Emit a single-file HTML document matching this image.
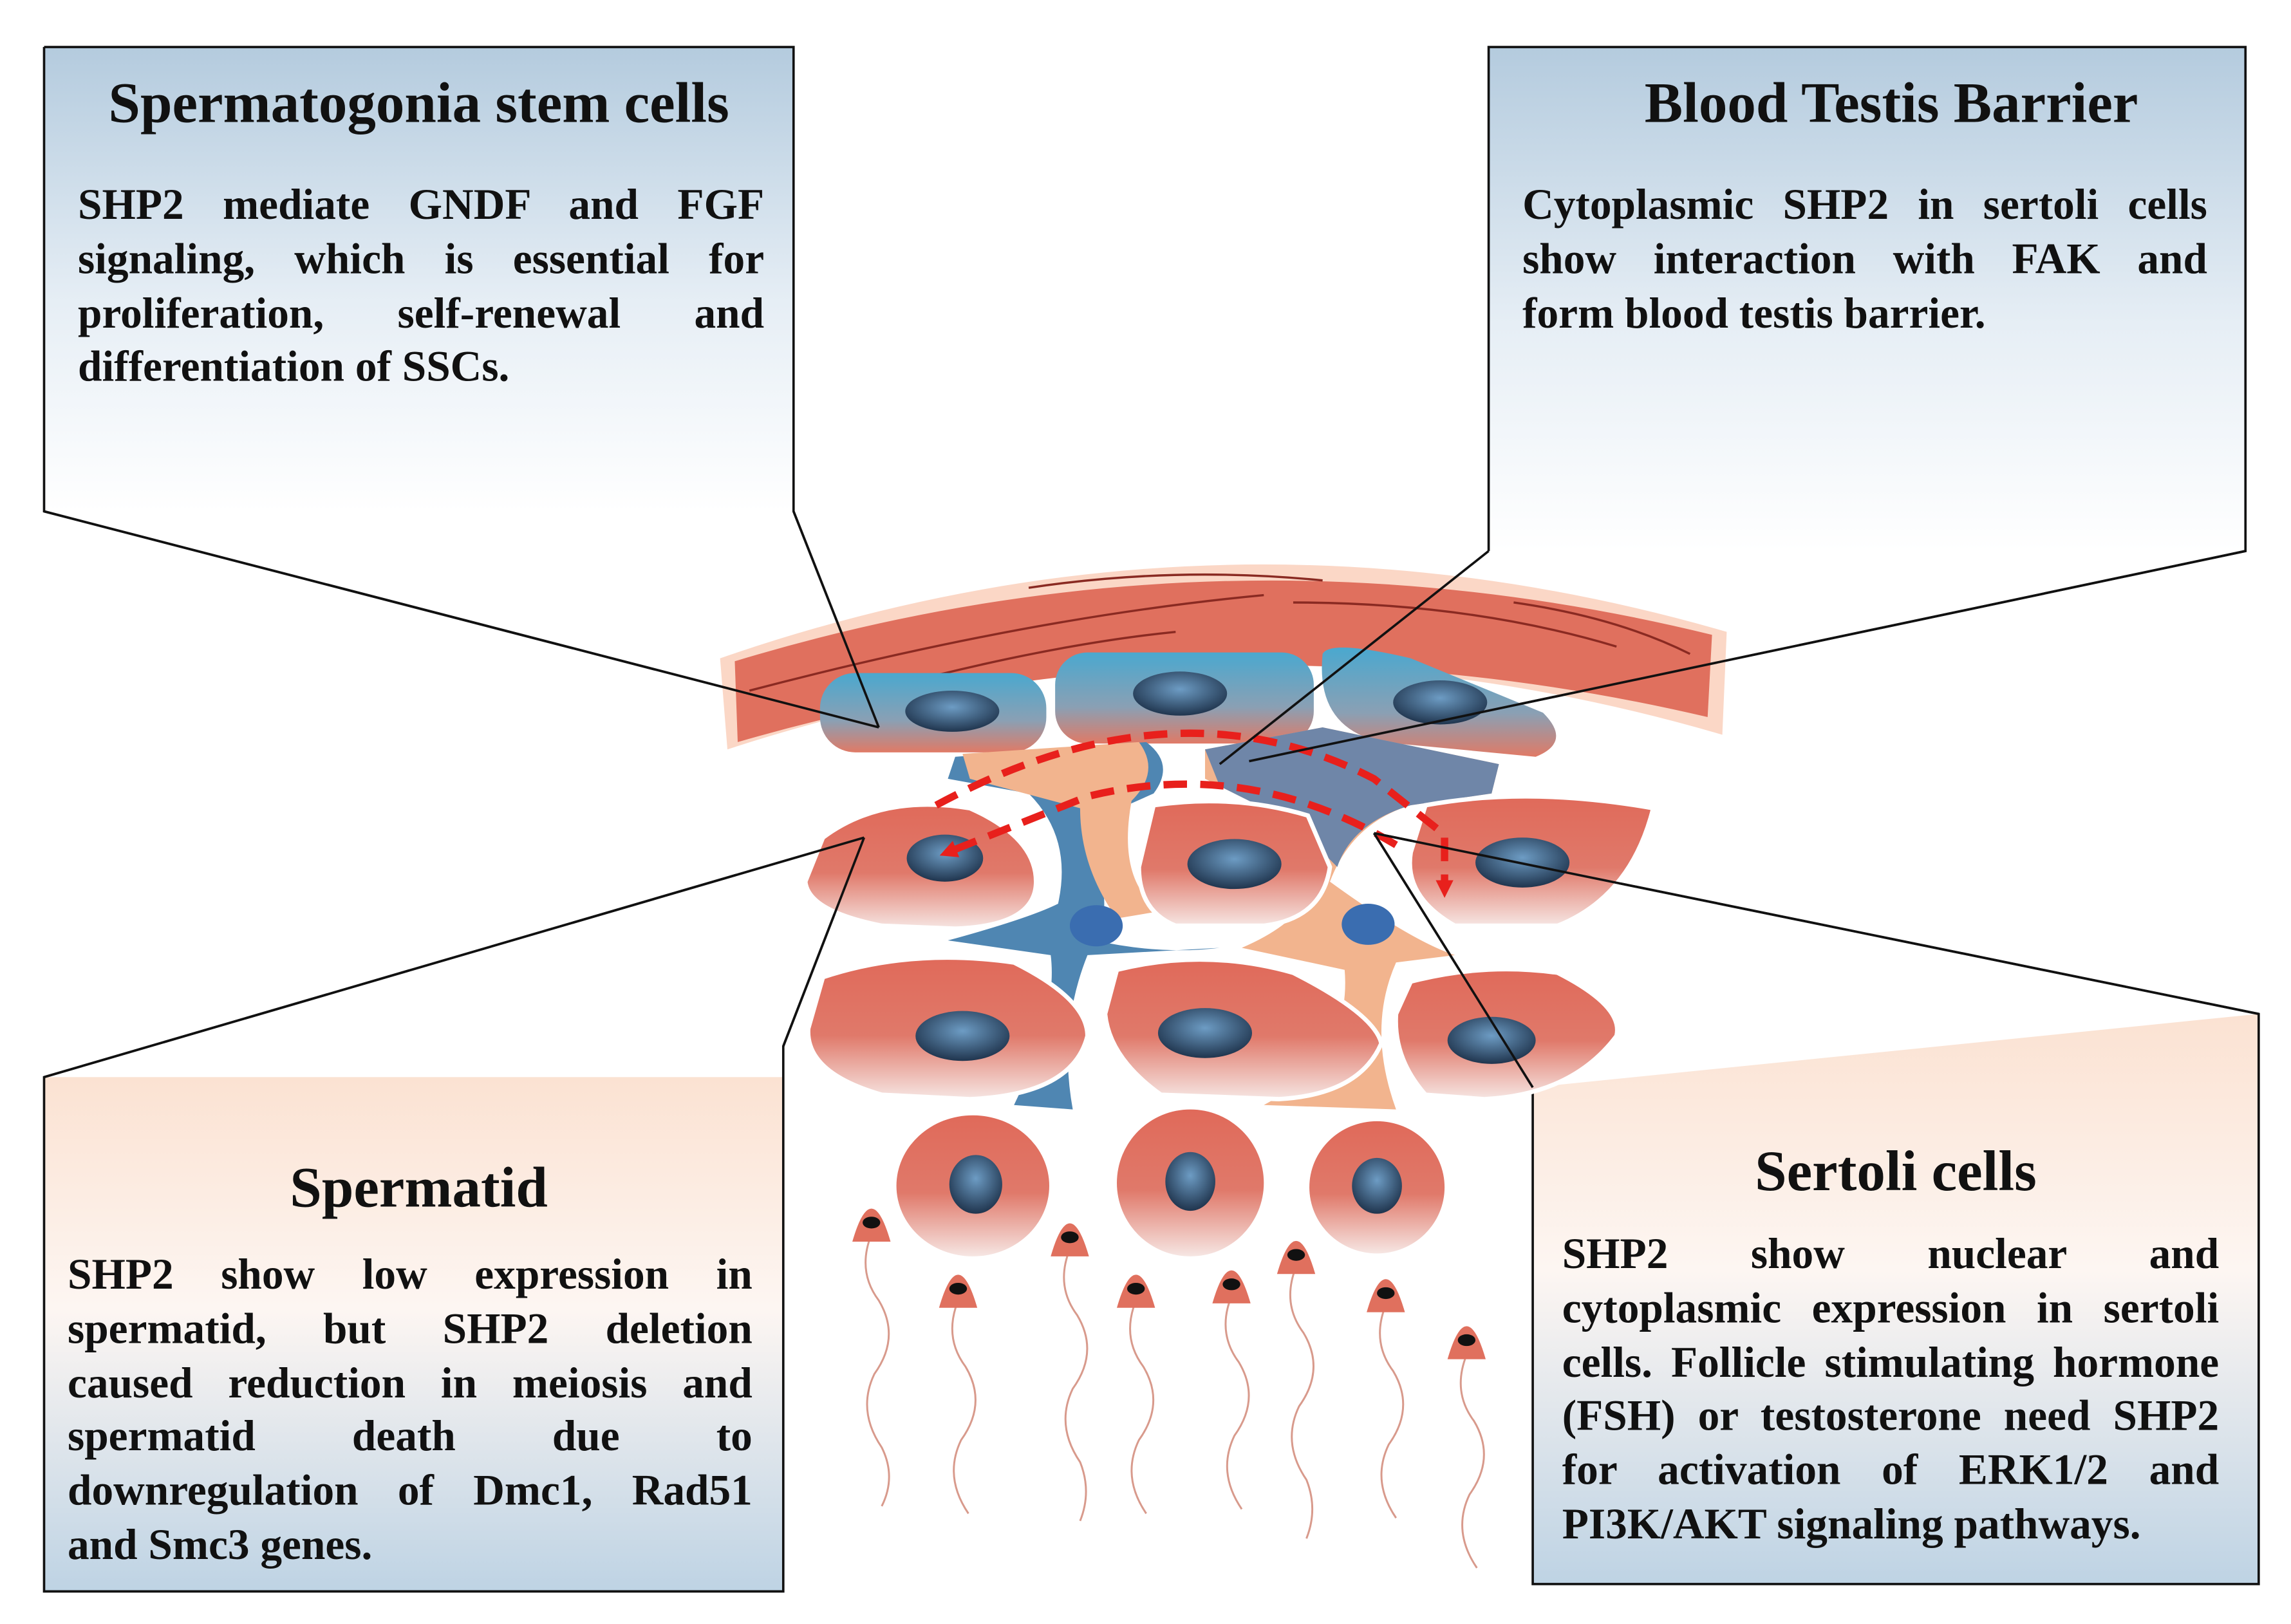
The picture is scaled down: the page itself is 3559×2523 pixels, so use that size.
<!DOCTYPE html>
<html><head><meta charset="utf-8"><style>
html,body{margin:0;padding:0;background:#fff;}
#wrap{position:absolute;left:0;top:0;width:1559px;height:1105px;transform:scale(2.2829);transform-origin:0 0;overflow:hidden;}
svg{position:absolute;left:0;top:0;}
.t{position:absolute;font-family:"Liberation Serif",serif;font-weight:bold;color:#111;}
.title{font-size:39px;text-align:center;}
.b{font-size:29.5px;line-height:36.8px;}
.b div{text-align:justify;text-align-last:justify;white-space:nowrap;}
.b div.l{text-align-last:left;}
</style></head><body><div id="wrap">
<svg width="1559" height="1105" viewBox="0 0 1559 1105">
<defs>
<linearGradient id="gb" x1="0" y1="0" x2="0" y2="1"><stop offset="0" stop-color="#b4cbde"/><stop offset="0.55" stop-color="#e6eef5"/><stop offset="1" stop-color="#fff"/></linearGradient>
<linearGradient id="gp" x1="0" y1="0" x2="0" y2="1"><stop offset="0" stop-color="#fbe2d2"/><stop offset="0.45" stop-color="#fdf6f2"/><stop offset="1" stop-color="#bed3e4"/></linearGradient>
<linearGradient id="cell" x1="0" y1="0" x2="0" y2="1"><stop offset="0" stop-color="#e06a5a"/><stop offset="0.55" stop-color="#e0796a"/><stop offset="1" stop-color="#f6e6e3"/></linearGradient>
<linearGradient id="bcell" x1="0" y1="0" x2="0" y2="1"><stop offset="0" stop-color="#4aa8cf"/><stop offset="0.6" stop-color="#8aa0b4"/><stop offset="1" stop-color="#e07a66"/></linearGradient>
<radialGradient id="nuc" cx="0.5" cy="0.4" r="0.6"><stop offset="0" stop-color="#6d9cc4"/><stop offset="1" stop-color="#20354e"/></radialGradient>
<marker id="ar" markerUnits="userSpaceOnUse" markerWidth="16" markerHeight="16" refX="6" refY="8" orient="auto"><path d="M0,2 L12,8 L0,14 z" fill="#e8201c"/></marker>
</defs>
<rect x="30" y="32" width="510" height="316" fill="url(#gb)"/>
<polyline points="30,32 540,32 540,348 598,495 30,348 30,32" fill="none" stroke="#111" stroke-width="1.6"/>
<rect x="1013" y="32" width="515" height="343" fill="url(#gb)"/>
<polyline points="1013,375 1013,32 1528,32 1528,375 850,518" fill="none" stroke="#111" stroke-width="1.6"/>
<rect x="30" y="733" width="503" height="350" fill="url(#gp)"/>
<polyline points="588,570 30,733 30,1083 533,1083 533,712 588,570" fill="none" stroke="#111" stroke-width="1.6"/>
<polygon points="1043,740 1537,690 1537,1078 1043,1078" fill="url(#gp)"/>
<polyline points="935,567 1043,740 1043,1078 1537,1078 1537,690 935,567" fill="none" stroke="#111" stroke-width="1.6"/>
<path d="M490,448 Q830,330 1175,430 L1172,500 Q830,400 495,510 Z" fill="#f8b08e" opacity="0.5"/>
<path d="M500,450 Q830,350 1165,432 L1162,488 Q830,410 502,505 Z" fill="#e0705e"/>
<path d="M510,470 Q700,420 860,405 M560,480 Q700,440 800,430 M700,400 Q800,385 900,395 M880,410 Q1000,410 1100,440 M1030,410 Q1100,420 1150,445" stroke="#8a2a22" stroke-width="1.5" fill="none"/>
<rect x="558" y="458" width="154" height="54" rx="24" fill="url(#bcell)"/>
<rect x="718" y="444" width="176" height="62" rx="22" fill="url(#bcell)"/>
<path d="M900,445 Q905,435 960,448 L1050,485 Q1070,505 1045,515 L940,505 Q895,495 900,445Z" fill="url(#bcell)"/>
<path d="M650,515 L780,505 Q800,520 785,540 L740,560 Q760,620 745,640 Q790,650 830,645 L740,650 Q720,700 730,755 L690,752 Q720,690 715,650 L645,640 Q700,625 720,615 Q730,570 700,540 L645,530Z" fill="#4f86b2"/>
<path d="M655,513 L775,505 Q790,525 770,545 Q760,600 790,620 L760,625 Q735,590 735,550 L660,530Z" fill="#f2b48e"/>
<path d="M820,510 L900,495 L1020,520 L1015,540 L960,548 Q920,560 905,600 Q960,640 990,650 L950,655 Q930,700 950,755 L860,752 Q920,720 915,660 L845,645 Q880,630 890,610 Q900,570 850,545 L820,530Z" fill="#f2b48e"/>
<path d="M820,510 L900,495 L1020,520 L1015,540 L960,548 Q920,560 910,590 L880,560 L830,535Z" fill="#6f86a8"/>
<ellipse cx="746" cy="630" rx="18" ry="14" fill="#3a6db0"/>
<ellipse cx="931" cy="629" rx="18" ry="14" fill="#3a6db0"/>
<path d="M560,570 Q600,540 660,550 Q705,570 705,600 Q705,630 650,632 L600,630 Q550,620 548,600 Z" fill="url(#cell)" stroke="#fff" stroke-width="3"/>
<path d="M785,548 Q840,540 890,555 L905,590 Q900,625 860,630 L800,630 Q775,620 775,590Z" fill="url(#cell)" stroke="#fff" stroke-width="3"/>
<path d="M970,548 Q1040,535 1125,550 Q1110,610 1060,630 L990,630 Q955,610 960,580Z" fill="url(#cell)" stroke="#fff" stroke-width="3"/>
<path d="M560,665 Q620,645 690,655 Q740,680 740,705 Q730,745 660,748 L600,745 Q548,730 550,700Z" fill="url(#cell)" stroke="#fff" stroke-width="3"/>
<path d="M760,660 Q820,645 880,662 Q935,690 940,710 Q925,745 870,748 L790,745 Q755,720 752,690Z" fill="url(#cell)" stroke="#fff" stroke-width="3"/>
<path d="M960,668 Q1010,655 1060,662 Q1105,685 1100,705 Q1070,745 1010,748 L970,745 Q948,720 950,690Z" fill="url(#cell)" stroke="#fff" stroke-width="3"/>
<ellipse cx="662" cy="807" rx="52" ry="48" fill="url(#cell)"/>
<ellipse cx="810" cy="805" rx="50" ry="50" fill="url(#cell)"/>
<ellipse cx="937" cy="808" rx="46" ry="45" fill="url(#cell)"/>
<g fill="url(#nuc)">
<ellipse cx="648" cy="484" rx="32" ry="14"/><ellipse cx="803" cy="472" rx="32" ry="15"/><ellipse cx="980" cy="478" rx="32" ry="15"/>
<ellipse cx="643" cy="584" rx="26" ry="16"/><ellipse cx="840" cy="588" rx="32" ry="17"/><ellipse cx="1036" cy="587" rx="32" ry="17"/>
<ellipse cx="655" cy="705" rx="32" ry="17"/><ellipse cx="820" cy="703" rx="32" ry="17"/><ellipse cx="1015" cy="708" rx="30" ry="16"/>
<ellipse cx="664" cy="806" rx="18" ry="20"/><ellipse cx="810" cy="804" rx="17" ry="20"/><ellipse cx="937" cy="807" rx="17" ry="19"/>
</g>
<g>
<path d="M593,840 q-10,25 5,45 q15,25 -3,50 q-12,25 5,50 q10,20 0,40 M652,885 q-10,25 5,45 q15,25 -3,50 q-12,25 5,50 M728,850 q-10,25 5,45 q15,25 -3,50 q-12,25 5,50 q8,20 0,40 M773,885 q-10,25 5,45 q15,25 -3,50 q-12,25 5,50 M838,882 q-10,25 5,45 q15,25 -3,50 q-12,25 5,50 M882,862 q-10,25 5,45 q15,25 -3,50 q-12,25 5,50 q8,20 0,40 M943,888 q-10,25 5,45 q15,25 -3,50 q-12,25 5,50 M998,922 q-10,25 5,45 q15,25 -3,50 q-12,25 5,50" stroke="#d89a8c" stroke-width="1.3" fill="none"/>
<g fill="#e0705e">
<path d="M580,845 Q593,800 606,845Z"/><path d="M639,890 Q652,845 665,890Z"/><path d="M715,855 Q728,810 741,855Z"/><path d="M760,890 Q773,845 786,890Z"/><path d="M825,887 Q838,842 851,887Z"/><path d="M869,867 Q882,822 895,867Z"/><path d="M930,893 Q943,848 956,893Z"/><path d="M985,925 Q998,880 1011,925Z"/>
</g>
<g fill="#111"><ellipse cx="593" cy="832" rx="6" ry="4"/><ellipse cx="652" cy="877" rx="6" ry="4"/><ellipse cx="728" cy="842" rx="6" ry="4"/><ellipse cx="773" cy="877" rx="6" ry="4"/><ellipse cx="838" cy="874" rx="6" ry="4"/><ellipse cx="882" cy="854" rx="6" ry="4"/><ellipse cx="943" cy="880" rx="6" ry="4"/><ellipse cx="998" cy="912" rx="6" ry="4"/></g>
</g>
<path d="M637,548 Q800,460 935,530 L983,568 L983,605" stroke="#e8201c" stroke-width="5" stroke-dasharray="16,9" fill="none" marker-end="url(#ar)"/>
<path d="M950,575 Q850,515 740,542 L645,580" stroke="#e8201c" stroke-width="5" stroke-dasharray="16,9" fill="none" marker-end="url(#ar)"/>
<line x1="540" y1="348" x2="598" y2="495" stroke="#111" stroke-width="1.6"/>
<line x1="30" y1="348" x2="598" y2="495" stroke="#111" stroke-width="1.6"/>
<line x1="1013" y1="375" x2="830" y2="520" stroke="#111" stroke-width="1.6"/>
<line x1="1528" y1="375" x2="850" y2="518" stroke="#111" stroke-width="1.6"/>
<line x1="30" y1="733" x2="588" y2="570" stroke="#111" stroke-width="1.6"/>
<line x1="533" y1="712" x2="588" y2="570" stroke="#111" stroke-width="1.6"/>
<line x1="1043" y1="740" x2="935" y2="567" stroke="#111" stroke-width="1.6"/>
<line x1="1537" y1="690" x2="935" y2="567" stroke="#111" stroke-width="1.6"/>
</svg>

<div class="t title" style="left:30px;width:510px;top:48px;">Spermatogonia stem cells</div>
<div class="t b" style="left:53px;width:467px;top:122px;">
<div>SHP2 mediate GNDF and FGF</div><div>signaling, which is essential for</div><div>proliferation, self-renewal and</div><div class="l">differentiation of SSCs.</div></div>

<div class="t title" style="left:1013px;width:548px;top:48px;">Blood Testis Barrier</div>
<div class="t b" style="left:1036px;width:466px;top:122px;">
<div>Cytoplasmic SHP2 in sertoli cells</div><div>show interaction with FAK and</div><div class="l">form blood testis barrier.</div></div>

<div class="t title" style="left:30px;width:510px;top:786px;">Spermatid</div>
<div class="t b" style="left:46px;width:466px;top:850px;">
<div>SHP2 show low expression in</div><div>spermatid, but SHP2 deletion</div><div>caused reduction in meiosis and</div><div>spermatid death due to</div><div>downregulation of Dmc1, Rad51</div><div class="l">and Smc3 genes.</div></div>

<div class="t title" style="left:1043px;width:494px;top:775px;">Sertoli cells</div>
<div class="t b" style="left:1063px;width:447px;top:836px;">
<div>SHP2 show nuclear and</div><div>cytoplasmic expression in sertoli</div><div>cells. Follicle stimulating hormone</div><div>(FSH) or testosterone need SHP2</div><div>for activation of ERK1/2 and</div><div class="l">PI3K/AKT signaling pathways.</div></div>
</div></body></html>
